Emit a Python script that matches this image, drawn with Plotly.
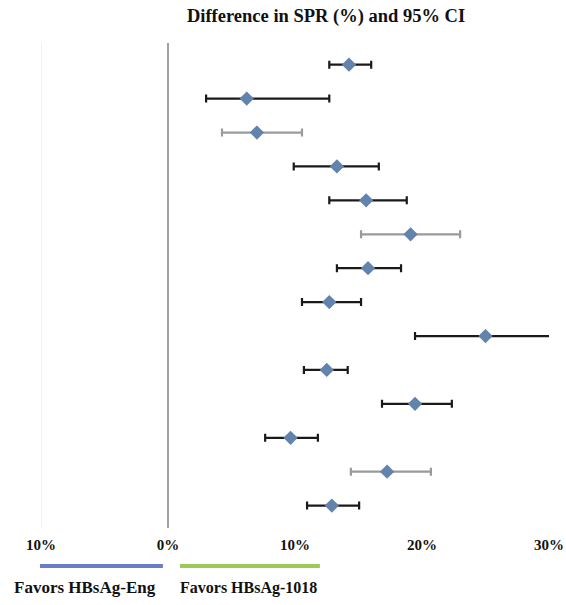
import plotly.graph_objects as go

# Data (difference in SPR, %, with 95% CI)
rows = list(range(1, 15))
estimate = [14.25, 6.2, 7.0, 13.3, 15.6, 19.1, 15.75, 12.7, 25.0, 12.5, 19.45, 9.65, 17.25, 12.9]
ci_low = [12.7, 3.0, 4.25, 9.9, 12.7, 15.2, 13.3, 10.55, 19.45, 10.7, 16.85, 7.65, 14.4, 10.95]
ci_high = [16.0, 12.7, 10.55, 16.6, 18.8, 23.0, 18.35, 15.2, 30.8, 14.15, 22.35, 11.8, 20.7, 15.05]
tick_values = [-10, 0, 10, 20, 30]
tick_labels = ["10%", "0%", "10%", "20%", "30%"]
title_text = "Difference in SPR (%) and 95% CI"
left_label = "Favors HBsAg-Eng"
right_label = "Favors HBsAg-1018"

# styling: rows whose CI bars look grey in the reference
grey_rows = {3, 6, 13}

fig = go.Figure()
for i, r in enumerate(rows):
    bar_color = "#9a9a9a" if r in grey_rows else "#1a1a1a"
    fig.add_trace(go.Scatter(
        x=[estimate[i]], y=[r], mode="markers",
        marker=dict(symbol="diamond", size=11, color="#6283ab"),
        error_x=dict(type="data", symmetric=False,
                     array=[ci_high[i] - estimate[i]],
                     arrayminus=[estimate[i] - ci_low[i]],
                     color=bar_color, thickness=2.2, width=4),
        showlegend=False, hoverinfo="x+y",
    ))

fig.add_shape(type="line", xref="x", yref="paper", x0=-10, x1=-10, y0=0, y1=1,
              line=dict(color="#ececec", width=1.5))
fig.add_shape(type="line", xref="x", yref="paper", x0=0, x1=0, y0=0, y1=1,
              line=dict(color="#a0a0a0", width=2))

# bottom colour bars and labels
fig.add_shape(type="line", xref="paper", yref="paper", x0=-0.002, x1=0.240, y0=-0.0784, y1=-0.0784,
              line=dict(color="#6b7ccc", width=4))
fig.add_shape(type="line", xref="paper", yref="paper", x0=0.2736, x1=0.549, y0=-0.0784, y1=-0.0784,
              line=dict(color="#9cc95a", width=4))
fig.add_annotation(xref="paper", yref="paper", x=-0.057, y=-0.1237, text="<b>" + left_label + "</b>",
                   showarrow=False, xanchor="left", yanchor="middle",
                   font=dict(family="Liberation Serif", size=17, color="#111111"))
fig.add_annotation(xref="paper", yref="paper", x=0.2697, y=-0.1237, text="<b>" + right_label + "</b>",
                   showarrow=False, xanchor="left", yanchor="middle",
                   font=dict(family="Liberation Serif", size=16, color="#111111"))

fig.update_layout(
    width=566, height=605,
    margin=dict(l=41, r=17, t=43, b=77),
    paper_bgcolor="white", plot_bgcolor="white",
    title=dict(text="<b>" + title_text + "</b>", x=0.576, xanchor="center", y=0.9736, yanchor="middle",
               font=dict(family="Liberation Serif", size=18.5, color="#111111")),
    xaxis=dict(range=[-10, 30], tickvals=tick_values, ticktext=["<b>" + t + "</b>" for t in tick_labels],
               showgrid=False, zeroline=False, showline=False, ticks="", automargin=False,
               tickfont=dict(family="Liberation Serif", size=15, color="#111111"),
               ticklabelstandoff=6),
    yaxis=dict(range=[14.66, 0.36], showticklabels=False, showgrid=False, automargin=False,
               zeroline=False, showline=False, ticks=""),
)

fig.write_html("out.html", config={"displayModeBar": False},
               post_script="document.body.style.margin='0px';")
